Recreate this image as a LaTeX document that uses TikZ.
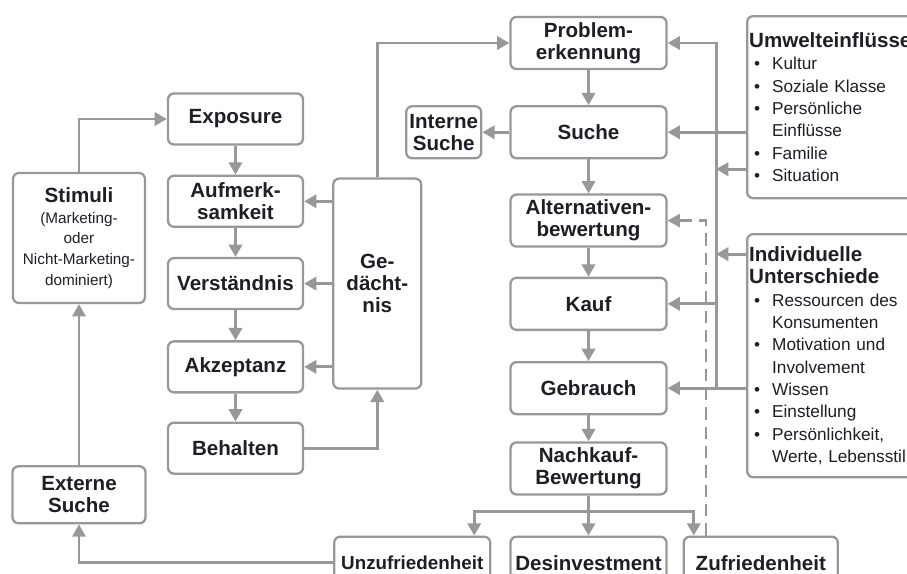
\documentclass[tikz,border=0pt]{standalone}
\usepackage{fontspec}
\setmainfont{Liberation Sans}
\usepackage{tikz}
\usetikzlibrary{arrows.meta,positioning}

\definecolor{linegray}{RGB}{152,152,152}
\definecolor{txt}{RGB}{30,30,38}
\newcommand{\hd}{\fontsize{11.7}{12.6}\selectfont\bfseries}
\newcommand{\bitem}[1]{\hspace*{0.1cm}\makebox[0.12cm][l]{\textbullet}\hspace{0.24cm}#1}
\newcommand{\bcont}[1]{\hspace*{0.46cm}#1}

\begin{document}
\begin{tikzpicture}[->,>={Triangle[length=7pt,width=7.5pt]},line width=1.7pt,
        color=linegray,text=txt,node distance=0.6cm]
    \tikzstyle{stage}=[draw=linegray,line width=1.3pt,rounded corners=0.12cm,
        fill=white,align=center,font=\hd,inner sep=1pt]
    \tikzstyle{mainstage}=[stage,minimum width=3.12cm,minimum height=1.04cm]
    \tikzstyle{leftstage}=[stage,minimum width=2.7cm,minimum height=1.02cm]
    \tikzstyle{infobox}=[stage,anchor=north west,align=left,text width=3.6cm,
        inner xsep=0.04cm,font=\fontsize{9.8}{12.7}\selectfont]

    \clip (0,0) rectangle (18.14,-11.46);
    \fill[white] (0,0) rectangle (18.14,-11.46);

    % Kaufprozess
    \node[mainstage] (prob) at (11.77,-0.86) {Problem-\\erkennung};
    \node[mainstage] (suche)  [below=0.7cm of prob]   {Suche};
    \node[mainstage] (alt)    [below=0.68cm of suche] {Alternativen-\\bewertung};
    \node[mainstage] (kauf)   [below=0.58cm of alt]   {Kauf};
    \node[mainstage] (gebr)   [below=0.6cm of kauf]   {Gebrauch};
    \node[mainstage] (nach)   [below=0.52cm of gebr]  {Nachkauf-\\Bewertung};
    \node[mainstage] (desinv) [below=0.8cm of nach]   {Desinvestment};
    \node[mainstage,minimum width=3.12cm,font=\fontsize{10.7}{12}\selectfont\bfseries]
        (unz) [left=0.36cm of desinv] {Unzufriedenheit};
    \node[mainstage,minimum width=3.08cm] (zuf) [right=0.3cm of desinv] {Zufriedenheit};
    \node[stage,minimum width=1.5cm,minimum height=1.04cm]
        (intern) [left=0.54cm of suche] {Interne\\Suche};

    % Informationsverarbeitung
    \node[leftstage] (expo) at (4.71,-2.38) {Exposure};
    \node[leftstage] (aufm)  [below=0.58cm of expo]  {Aufmerk-\\samkeit};
    \node[leftstage] (verst) [below=0.58cm of aufm]  {Verständnis};
    \node[leftstage] (akz)   [below=0.6cm of verst]  {Akzeptanz};
    \node[leftstage] (beh)   [below=0.56cm of akz]   {Behalten};
    \node[stage,minimum width=1.76cm,minimum height=4.2cm]
        (ged) [right=0.56cm of verst] {Ge-\\dächt-\\nis};
    \node[stage,minimum width=2.64cm,minimum height=2.6cm,
        font=\fontsize{8.7}{11.8}\selectfont]
        (stim) at (1.58,-4.76) {{\hd Stimuli}\\(Marketing-\\oder\\Nicht-Marketing-\\dominiert)};
    \node[stage,minimum width=2.66cm,minimum height=1.14cm]
        (ext) [below=3.22cm of stim] {Externe\\Suche};

    % Einflussfaktoren
    \node[infobox,minimum height=3.64cm] (umw) at (14.92,-0.3) {%
        {\hd Umwelteinflüsse}\\
        \bitem{Kultur}\\
        \bitem{Soziale Klasse}\\
        \bitem{Persönliche}\\
        \bcont{Einflüsse}\\
        \bitem{Familie}\\
        \bitem{Situation}};
    \node[infobox,minimum height=4.86cm] (ind) at (14.92,-4.66) {%
        {\hd Individuelle}\\
        {\hd Unterschiede}\\
        \bitem{Ressourcen des}\\
        \bcont{Konsumenten}\\
        \bitem{Motivation und}\\
        \bcont{Involvement}\\
        \bitem{Wissen}\\
        \bitem{Einstellung}\\
        \bitem{Persönlichkeit,}\\
        \bcont{Werte, Lebensstil}};

    \coordinate (bus) at (14.32,0);

    \path   (prob) edge (suche)
            (suche) edge (alt)
                edge (intern)
            (alt) edge (kauf)
            (kauf) edge (gebr)
            (gebr) edge (nach)
            (expo) edge (aufm)
            (aufm) edge (verst)
            (verst) edge (akz)
            (akz) edge (beh)
            (ext) edge (stim)
            (ged.west |- aufm.east) edge (aufm.east)
            (ged.west |- verst.east) edge (verst.east)
            (ged.west |- akz.east) edge (akz.east);

    \draw (stim.north) |- (expo.west);
    \draw (beh.east) -| (ged.south);
    \draw (ged.north) |- (prob.west);
    \draw (unz.west) -| (ext.south);

    \draw (bus |- gebr.east) |- (prob.east);
    \draw (umw.west |- suche.east) -- (suche.east);
    \draw ([yshift=-1.24cm]umw.west) -- ([yshift=-1.24cm]umw.west -| bus);
    \draw ([yshift=2.03cm]ind.west) -- ([yshift=2.03cm]ind.west -| bus);
    \draw (bus |- kauf.east) -- (kauf.east);
    \draw (ind.west |- gebr.east) -- (gebr.east);

    \draw[-] (nach.south) -- ++(0,-0.32) coordinate (split);
    \draw (split) -| ([xshift=1.24cm]unz.north);
    \draw (split) -- (desinv.north);
    \draw (split) -| ([xshift=-1.34cm]zuf.north);

    \draw[dashed,dash pattern=on 7pt off 4pt,line width=1.4pt]
        ([xshift=-1.1cm]zuf.north) |- (alt.east);
\end{tikzpicture}
\end{document}
